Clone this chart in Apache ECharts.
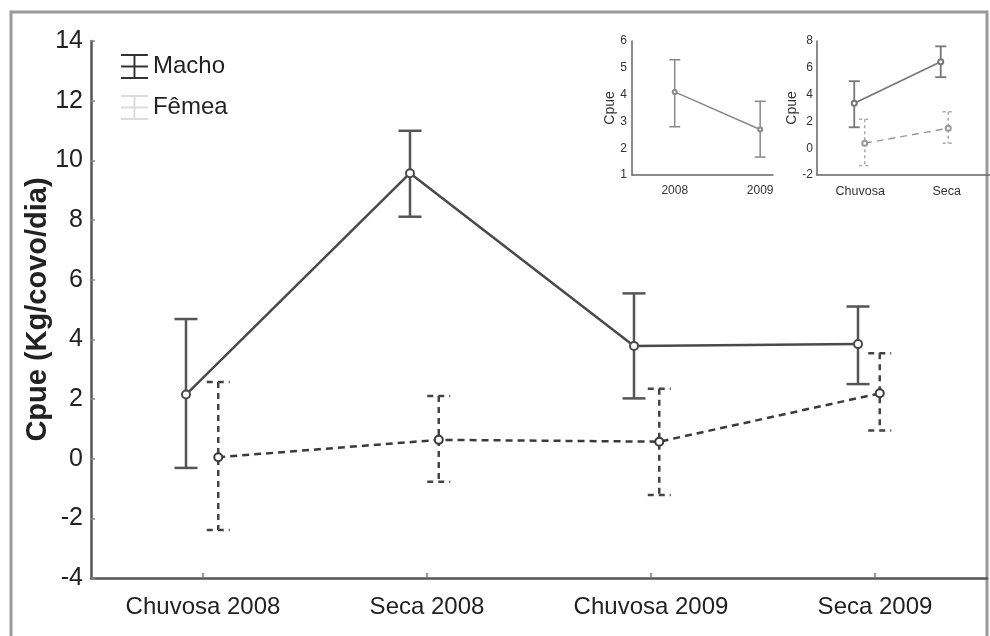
<!DOCTYPE html>
<html>
<head>
<meta charset="utf-8">
<script src="https://cdn.jsdelivr.net/npm/echarts@6/dist/echarts.min.js"></script>
<style>
  html, body { margin: 0; padding: 0; background: #fff; }
  #chart { width: 990px; height: 636px; }
</style>
</head>
<body>
<div id="chart"></div>
<script>
// CPUE by season/year, mean with error bars, for males and females
const periods = ['Chuvosa 2008', 'Seca 2008', 'Chuvosa 2009', 'Seca 2009'];
const machoMean = [2.15, 9.57, 3.78, 3.84];
const machoLow  = [-0.31, 8.11, 2.02, 2.50];
const machoHigh = [4.68, 10.99, 5.54, 5.10];
const femeaMean = [0.05, 0.63, 0.57, 2.19];
const femeaLow  = [-2.39, -0.77, -1.22, 0.94];
const femeaHigh = [2.57, 2.10, 2.34, 3.53];

// Small panel: by year
const yearCats = ['2008', '2009'];
const yearMean = [4.10, 2.70];
const yearLow  = [2.80, 1.67];
const yearHigh = [5.30, 3.75];

// Small panel: by season
const seasonCats = ['Chuvosa', 'Seca'];
const seasonMachoMean = [3.35, 6.45];
const seasonMachoLow  = [1.56, 5.30];
const seasonMachoHigh = [5.00, 7.60];
const seasonFemeaMean = [0.37, 1.49];
const seasonFemeaLow  = [-1.30, 0.37];
const seasonFemeaHigh = [2.16, 2.72];

const SANS = "'Liberation Sans', Arial, sans-serif";

const chart = echarts.init(document.getElementById('chart'), null, { renderer: 'canvas' });

// Vertical whisker with caps at both ends
function errorBars(axisIdx, lows, highs, capW, style, z) {
  return {
    type: 'custom',
    xAxisIndex: axisIdx, yAxisIndex: axisIdx,
    z: z || 2,
    silent: true,
    data: lows.map((l, i) => [i, l, highs[i]]),
    encode: { x: 0, y: [1, 2] },
    renderItem: (params, api) => {
      const lo = api.coord([api.value(0), api.value(1)]);
      const hi = api.coord([api.value(0), api.value(2)]);
      const h = capW / 2;
      return {
        type: 'group',
        children: [
          { type: 'line', shape: { x1: hi[0], y1: hi[1], x2: lo[0], y2: lo[1] }, style: style },
          { type: 'line', shape: { x1: hi[0] - h, y1: hi[1], x2: hi[0] + h, y2: hi[1] }, style: style },
          { type: 'line', shape: { x1: lo[0] - h, y1: lo[1], x2: lo[0] + h, y2: lo[1] }, style: style }
        ]
      };
    }
  };
}

function meanLine(name, axisIdx, data, color, width, dashed, symSize) {
  return {
    name: name,
    type: 'line',
    xAxisIndex: axisIdx, yAxisIndex: axisIdx,
    z: 3,
    silent: true,
    data: data,
    symbol: 'circle',
    symbolSize: symSize,
    lineStyle: { color: color, width: width, type: dashed ? [7, 5] : 'solid' },
    itemStyle: { color: '#fff', borderColor: color, borderWidth: 2 },
    animation: false
  };
}

function hiddenCat(gridIndex, cats) {
  return { type: 'category', gridIndex: gridIndex, data: cats, boundaryGap: true, show: false };
}
function hiddenVal(gridIndex, min, max) {
  return { type: 'value', gridIndex: gridIndex, min: min, max: max, show: false, splitLine: { show: false } };
}

const axisLineStyle = { color: '#555', width: 2.5 };
const smallAxisLine = { color: '#666', width: 1.5 };

const legendIcon = 'path://M0,0H28V2H0Z M0,12H28V14H0Z M0,24H28V26H0Z M13,0H15V26H13Z';

const option = {
  backgroundColor: '#fff',
  animation: false,
  graphic: [
    { type: 'rect', silent: true, z: 0,
      shape: { x: 11, y: 12, width: 976, height: 640 },
      style: { fill: 'none', stroke: '#9a9a9a', lineWidth: 3 } }
  ],
  legend: {
    orient: 'vertical',
    left: 121, top: 54,
    padding: 0,
    itemWidth: 27, itemHeight: 25, itemGap: 16,
    selectedMode: false,
    textStyle: { fontFamily: SANS, fontSize: 24, color: '#222' },
    data: [
      { name: 'Macho', icon: legendIcon, itemStyle: { color: '#333', borderWidth: 0 }, lineStyle: { width: 0 } },
      { name: 'Fêmea', icon: legendIcon, itemStyle: { color: '#dcdcdc', borderWidth: 0 }, lineStyle: { width: 0 } }
    ]
  },
  grid: [
    // main panel: visible axes, then male (shifted left) and female (shifted right) layers
    { left: 91, top: 41, width: 896, height: 537 },
    { left: 74, top: 41, width: 896, height: 537 },
    { left: 108, top: 41, width: 896, height: 537 },
    // inset by year
    { left: 632, top: 41, width: 141, height: 134 },
    // inset by season: visible axes, male layer, female layer
    { left: 817, top: 41, width: 173, height: 134 },
    { left: 811, top: 41, width: 173, height: 134 },
    { left: 823, top: 41, width: 173, height: 134 }
  ],
  xAxis: [
    {
      type: 'category', gridIndex: 0, data: periods, boundaryGap: true,
      axisLine: { onZero: false, lineStyle: axisLineStyle },
      axisTick: { show: true, inside: true, alignWithLabel: true, length: 5, lineStyle: { color: '#777', width: 1.5 } },
      axisLabel: { interval: 0, fontFamily: SANS, fontSize: 24, color: '#222', margin: 17 }
    },
    hiddenCat(1, periods),
    hiddenCat(2, periods),
    {
      type: 'value', gridIndex: 3, min: -0.5, max: 1.15,
      splitLine: { show: false },
      axisLine: { show: true, onZero: false, lineStyle: smallAxisLine },
      axisTick: { show: false },
      axisLabel: {
        customValues: [0, 1],
        formatter: v => yearCats[v] || '',
        fontFamily: SANS, fontSize: 12, color: '#333', margin: 10
      }
    },
    {
      type: 'category', gridIndex: 4, data: seasonCats, boundaryGap: true,
      axisLine: { onZero: false, lineStyle: smallAxisLine },
      axisTick: { show: false },
      axisLabel: { interval: 0, fontFamily: SANS, fontSize: 12.5, color: '#333', margin: 10 }
    },
    hiddenCat(5, seasonCats),
    hiddenCat(6, seasonCats)
  ],
  yAxis: [
    {
      type: 'value', gridIndex: 0, min: -4, max: 14, interval: 2,
      splitLine: { show: false },
      axisLine: { show: true, onZero: false, lineStyle: axisLineStyle },
      axisTick: { show: true, inside: true, length: 4, lineStyle: { color: '#888', width: 1.5 } },
      axisLabel: { fontFamily: SANS, fontSize: 25, color: '#222', margin: 8 },
      name: 'Cpue (Kg/covo/dia)',
      nameLocation: 'middle',
      nameGap: 39,
      nameMoveOverlap: false,
      nameRotate: 90,
      nameTextStyle: { fontFamily: SANS, fontSize: 29, fontWeight: 'bold', color: '#222' }
    },
    hiddenVal(1, -4, 14),
    hiddenVal(2, -4, 14),
    {
      type: 'value', gridIndex: 3, min: 1, max: 6, interval: 1,
      splitLine: { show: false },
      axisLine: { show: true, onZero: false, lineStyle: smallAxisLine },
      axisTick: { show: false },
      axisLabel: { fontFamily: SANS, fontSize: 12, color: '#333', margin: 5 },
      name: 'Cpue', nameLocation: 'middle', nameGap: 15, nameMoveOverlap: false, nameRotate: 90,
      nameTextStyle: { fontFamily: SANS, fontSize: 14, color: '#333' }
    },
    {
      type: 'value', gridIndex: 4, min: -2, max: 8, interval: 2,
      splitLine: { show: false },
      axisLine: { show: true, onZero: false, lineStyle: smallAxisLine },
      axisTick: { show: false },
      axisLabel: { fontFamily: SANS, fontSize: 12, color: '#333', margin: 4 },
      name: 'Cpue', nameLocation: 'middle', nameGap: 18, nameMoveOverlap: false, nameRotate: 90,
      nameTextStyle: { fontFamily: SANS, fontSize: 14, color: '#333' }
    },
    hiddenVal(5, -2, 8),
    hiddenVal(6, -2, 8)
  ],
  series: [
    // main panel
    errorBars(1, machoLow, machoHigh, 23, { stroke: '#555', lineWidth: 2.5 }),
    errorBars(2, femeaLow, femeaHigh, 23, { stroke: '#444', lineWidth: 2.5, lineDash: [6, 5] }),
    meanLine('Macho', 1, machoMean, '#4a4a4a', 2.5, false, 8),
    meanLine('Fêmea', 2, femeaMean, '#3a3a3a', 2.5, true, 8),
    // inset by year
    errorBars(3, yearLow, yearHigh, 11, { stroke: '#888', lineWidth: 1.5 }),
    meanLine('', 3, yearMean.map((v, i) => [i, v]), '#888', 1.5, false, 4),
    // inset by season
    errorBars(5, seasonMachoLow, seasonMachoHigh, 11, { stroke: '#777', lineWidth: 1.8 }),
    errorBars(6, seasonFemeaLow, seasonFemeaHigh, 11, { stroke: '#aaa', lineWidth: 1.5, lineDash: [3, 3] }),
    meanLine('', 5, seasonMachoMean, '#777', 1.8, false, 5),
    meanLine('', 6, seasonFemeaMean, '#999', 1.5, true, 5)
  ]
};

chart.setOption(option);
</script>
</body>
</html>
